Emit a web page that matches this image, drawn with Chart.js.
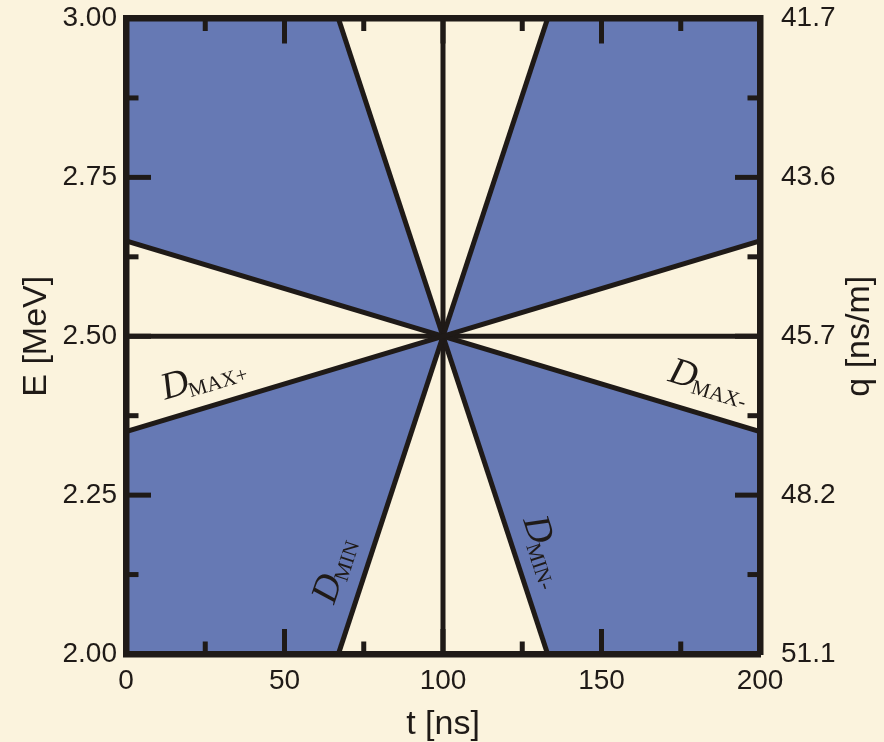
<!DOCTYPE html>
<html>
<head>
<meta charset="utf-8">
<script src="https://cdn.jsdelivr.net/npm/chart.js@4.4.0/dist/chart.umd.min.js"></script>
<style>
  html, body { margin: 0; padding: 0; background: #fbf3dd; }
  canvas { display: block; }
</style>
</head>
<body>
<canvas id="phaseChart" width="884" height="742"></canvas>
<script>
// axis ticks
const tTicks = [0, 50, 100, 150, 200];
const tMinorTicks = [25, 75, 125, 175];
const eTicks = [2.00, 2.25, 2.50, 2.75, 3.00];
const eMinorTicks = [2.125, 2.375, 2.625, 2.875];
const qTickLabels = ['51.1', '48.2', '45.7', '43.6', '41.7'];

// boundary lines through the reference point (100 ns, 2.5 MeV)
const dMaxPlus  = [{x: 0, y: 2.35}, {x: 200, y: 2.65}];
const dMaxMinus = [{x: 0, y: 2.65}, {x: 200, y: 2.35}];
const dMin      = [{x: 67, y: 2.00}, {x: 133, y: 3.00}];
const dMinMinus = [{x: 67, y: 3.00}, {x: 133, y: 2.00}];
const tRefLine  = [{x: 100, y: 2.00}, {x: 100, y: 3.00}];
const eRefLine  = [{x: 0, y: 2.50}, {x: 200, y: 2.50}];

// outer edges of the shaded wedges, each filled to a D_MAX line
const wedgeTopLeft     = [{x: 0, y: 3.00}, {x: 67, y: 3.00}, {x: 100, y: 2.50}];
const wedgeTopRight    = [{x: 100, y: 2.50}, {x: 133, y: 3.00}, {x: 200, y: 3.00}];
const wedgeBottomLeft  = [{x: 0, y: 2.00}, {x: 67, y: 2.00}, {x: 100, y: 2.50}];
const wedgeBottomRight = [{x: 100, y: 2.50}, {x: 133, y: 2.00}, {x: 200, y: 2.00}];

// line names (anchor = start of the "D" baseline)
const lineLabels = [
    { sub: 'MAX+', x: 12.3,  y: 2.400, line: dMaxPlus },
    { sub: 'MAX-', x: 170.7, y: 2.430, line: dMaxMinus },
    { sub: 'MIN',  x: 65.6,  y: 2.077, line: dMin },
    { sub: 'MIN-', x: 125.2, y: 2.211, line: dMinMinus }
];

const ink = '#1f1a17';
const blue = '#6679b4';
const sans = '"Liberation Sans", Arial, sans-serif';
const serif = '"Liberation Serif", "Times New Roman", serif';

function lineSet(data) {
    return { data: data, borderColor: ink, borderWidth: 5, fill: false, pointRadius: 0 };
}
function wedgeSet(data, target) {
    return { data: data, borderColor: 'rgba(0,0,0,0)', borderWidth: 0, backgroundColor: blue, fill: target, pointRadius: 0 };
}

/** Inward ticks, line names and the right axis title. */
const decorations = {
    id: 'decorations',
    afterDatasetsDraw(chart) {
        const { ctx, chartArea: a } = chart;
        const x = chart.scales.x, y = chart.scales.y;
        ctx.save();
        ctx.strokeStyle = ink;
        ctx.lineWidth = 5;
        const seg = (x1, y1, x2, y2) => { ctx.beginPath(); ctx.moveTo(x1, y1); ctx.lineTo(x2, y2); ctx.stroke(); };

        tTicks.slice(1, -1).concat(tMinorTicks).forEach(v => {
            const len = tMinorTicks.includes(v) ? 12.5 : 25;
            const px = x.getPixelForValue(v);
            seg(px, a.bottom, px, a.bottom - len);
            seg(px, a.top, px, a.top + len);
        });
        eTicks.slice(1, -1).concat(eMinorTicks).forEach(v => {
            const len = eMinorTicks.includes(v) ? 12.5 : 25;
            const py = y.getPixelForValue(v);
            seg(a.left, py, a.left + len, py);
            seg(a.right, py, a.right - len, py);
        });

        ctx.fillStyle = ink;
        ctx.textBaseline = 'alphabetic';
        lineLabels.forEach(l => {
            const p0 = l.line[0], p1 = l.line[1];
            const ang = Math.atan2(y.getPixelForValue(p1.y) - y.getPixelForValue(p0.y),
                                   x.getPixelForValue(p1.x) - x.getPixelForValue(p0.x));
            ctx.save();
            ctx.translate(x.getPixelForValue(l.x), y.getPixelForValue(l.y));
            ctx.rotate(ang);
            ctx.font = 'italic 38px ' + serif;
            ctx.fillText('D', 0, 0);
            const w = ctx.measureText('D').width;
            ctx.font = '21px ' + serif;
            ctx.fillText(l.sub, w - 2, 5);
            ctx.restore();
        });

        // right title reads bottom-to-top in the reference
        ctx.save();
        ctx.translate(860, (a.top + a.bottom) / 2);
        ctx.rotate(-Math.PI / 2);
        ctx.font = '34px ' + sans;
        ctx.textAlign = 'center';
        ctx.textBaseline = 'middle';
        ctx.fillText('q [ns/m]', 0, 0);
        ctx.restore();
        ctx.restore();
    }
};

const borderOpts = { display: true, width: 6.5, color: ink, z: 1 };
// invisible outward tick marks act as the gap between frame and labels
const gridFor = gap => ({ drawOnChartArea: false, drawTicks: gap > 0, tickLength: gap, tickColor: 'rgba(0,0,0,0)' });
const tickFont = { family: sans, size: 28, lineHeight: 1.2 };

var ctxL = document.getElementById('phaseChart').getContext('2d');

var phaseChart = new Chart(ctxL, {
    type: 'line',
    data: {
        datasets: [
            lineSet(dMaxPlus),
            lineSet(dMaxMinus),
            lineSet(dMin),
            lineSet(dMinMinus),
            lineSet(tRefLine),
            lineSet(eRefLine),
            wedgeSet(wedgeTopLeft, 1),
            wedgeSet(wedgeTopRight, 0),
            wedgeSet(wedgeBottomLeft, 0),
            wedgeSet(wedgeBottomRight, 1)
        ]
    },
    options: {
        responsive: false,
        animation: false,
        layout: { padding: 0 },
        elements: { line: { tension: 0 } },
        plugins: {
            legend: { display: false },
            tooltip: { enabled: false },
            filler: { drawTime: 'beforeDatasetsDraw' }
        },
        scales: {
            x: {
                type: 'linear', position: 'bottom', min: 0, max: 200,
                afterFit: s => { s.height = 88; },
                afterBuildTicks: s => { s.ticks = tTicks.map(v => ({ value: v })); },
                ticks: { font: tickFont, color: ink, padding: 0, autoSkip: false, maxRotation: 0 },
                grid: gridFor(10), border: borderOpts,
                title: { display: true, text: 't [ns]', color: ink,
                         font: { family: sans, size: 34, lineHeight: 1 }, padding: { top: 0, bottom: 0 } }
            },
            x2: {
                type: 'linear', axis: 'x', position: 'top', min: 0, max: 200,
                afterFit: s => { s.height = 18.5; },
                ticks: { display: false },
                grid: gridFor(0), border: borderOpts
            },
            y: {
                type: 'linear', position: 'left', min: 2, max: 3,
                afterFit: s => { s.width = 126; },
                afterBuildTicks: s => { s.ticks = eTicks.map(v => ({ value: v })); },
                ticks: { font: tickFont, color: ink, padding: 0, autoSkip: false,
                         callback: v => Number(v).toFixed(2) },
                grid: gridFor(9), border: borderOpts,
                title: { display: true, text: 'E [MeV]', color: ink,
                         font: { family: sans, size: 34, lineHeight: 1 }, padding: { top: 20, bottom: 0 } }
            },
            y2: {
                type: 'linear', axis: 'y', position: 'right', min: 2, max: 3,
                afterFit: s => { s.width = 124; },
                afterBuildTicks: s => { s.ticks = eTicks.map(v => ({ value: v })); },
                ticks: { font: tickFont, color: ink, padding: 0, autoSkip: false,
                         callback: (v, i) => qTickLabels[i] },
                grid: gridFor(21), border: borderOpts
            }
        }
    },
    plugins: [decorations]
});
</script>
</body>
</html>
